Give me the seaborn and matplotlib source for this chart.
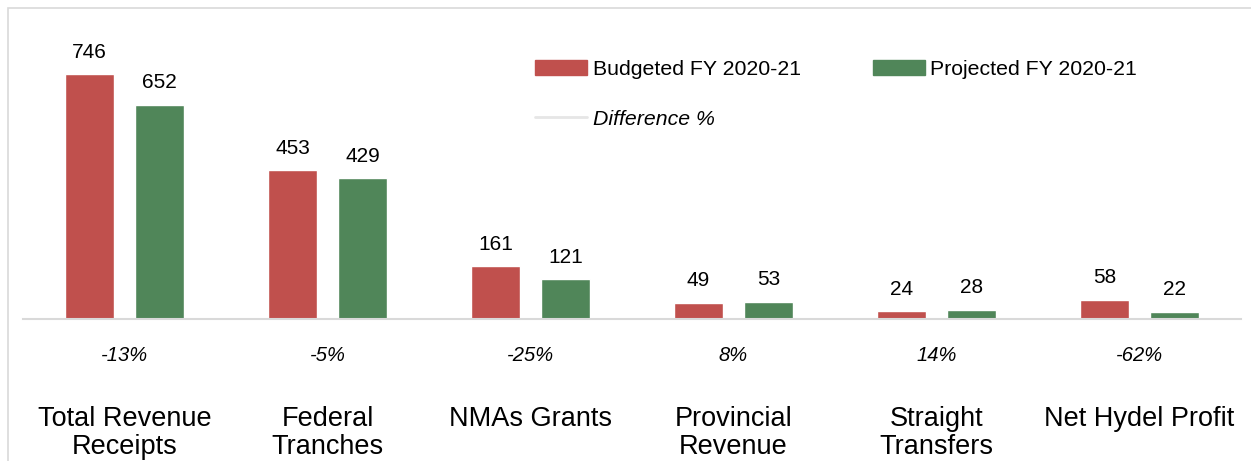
import pandas as pd
import matplotlib.pyplot as plt
import seaborn as sns
from matplotlib.patches import Patch, Rectangle
from matplotlib.lines import Line2D

categories = ["Total Revenue\nReceipts", "Federal\nTranches", "NMAs Grants",
              "Provincial\nRevenue", "Straight\nTransfers", "Net Hydel Profit"]
budgeted = [746, 453, 161, 49, 24, 58]
projected = [652, 429, 121, 53, 28, 22]
difference = ["-13%", "-5%", "-25%", "8%", "14%", "-62%"]
series = ["Budgeted FY 2020-21", "Projected FY 2020-21"]
colors = ["#C0504D", "#508659"]

df = pd.DataFrame({
    "category": categories * 2,
    "value": budgeted + projected,
    "series": [series[0]] * len(categories) + [series[1]] * len(categories),
})

sns.set_style("white")
plt.rcParams['font.family'] = ['Liberation Sans', 'DejaVu Sans']
plt.rcParams['text.color'] = 'black'
plt.rcParams['xtick.color'] = 'black'

fig = plt.figure(figsize=(12.51, 4.61), dpi=100)
ax = fig.add_axes([23 / 1251, 142 / 461, 1218 / 1251, 289 / 461])

sns.barplot(data=df, x="category", y="value", hue="series", palette=colors,
            width=0.69, gap=0.3, saturation=1, ax=ax, legend=False)

for cont in ax.containers:
    ax.bar_label(cont, fmt="%d", padding=9, fontsize=15, color="black")

ax.set_ylim(0, 880)
ax.set_xlim(-0.5, len(categories) - 0.5)
ax.set_xlabel("")
ax.set_ylabel("")
ax.set_yticks([])
ax.tick_params(axis="x", length=0, labelsize=19.5, pad=63, labelcolor="black")
for lbl in ax.get_xticklabels():
    lbl.set_linespacing(1.1)
for s in ["top", "left", "right"]:
    ax.spines[s].set_visible(False)
ax.spines["bottom"].set_color("#d9d9d9")
ax.spines["bottom"].set_linewidth(1.5)

for i, d in enumerate(difference):
    ax.annotate(d, xy=(i, 0), xycoords=("data", "axes fraction"),
                xytext=(0, -26), textcoords="offset points",
                ha="center", va="center", fontsize=14.5, style="italic")

handles = [Patch(color=colors[0], label=series[0]),
           Line2D([], [], color="#e6e6e6", lw=2, label="Difference %"),
           Patch(color=colors[1], label=series[1])]
leg = ax.legend(handles=handles, ncol=2, loc="upper left",
                bbox_to_anchor=(516 / 1251, 1 - 41 / 461), bbox_transform=fig.transFigure,
                frameon=False, fontsize=15.3, handlelength=2.45, handletextpad=0.27,
                labelspacing=1.44, columnspacing=3.37)
for t in leg.get_texts():
    if t.get_text() == "Difference %":
        t.set_style("italic")

fig.patches.append(Rectangle((8 / 1251, -0.1), 1.2, 1 - 8 / 461 + 0.1,
                             transform=fig.transFigure, fill=False,
                             edgecolor="#d9d9d9", lw=1.2))

fig.savefig("out.png", dpi=100)
